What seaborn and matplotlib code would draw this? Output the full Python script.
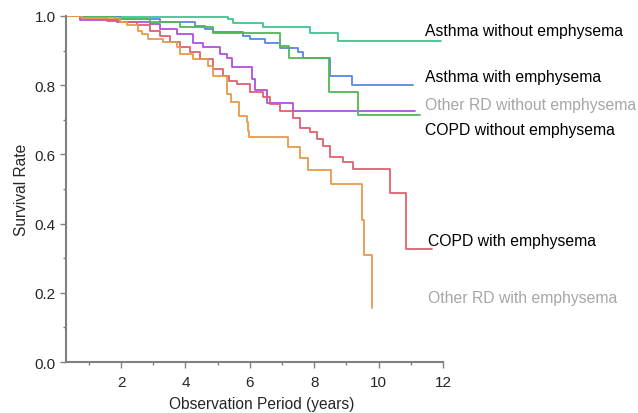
import matplotlib
matplotlib.use("Agg")
import matplotlib.pyplot as plt
from matplotlib.ticker import MultipleLocator
import numpy as np
import pandas as pd
import seaborn as sns

# step curves (time in years, survival rate)
asthma_no_t = [0.3, 2.0, 5.33, 5.48, 6.41, 7.87, 8.74, 11.94]
asthma_no_s = [1.0, 0.997, 0.991, 0.980, 0.967, 0.951, 0.927, 0.927]

asthma_em_t = [0.3, 1.97, 3.22, 4.30, 4.61, 4.86, 5.79, 6.01, 6.47, 6.94, 7.50, 7.65, 8.49, 9.17, 11.07]
asthma_em_s = [1.0, 0.991, 0.982, 0.972, 0.962, 0.953, 0.943, 0.933, 0.921, 0.907, 0.895, 0.880, 0.827, 0.801, 0.801]

other_no_t = [0.3, 0.73, 1.88, 2.90, 3.21, 3.74, 4.24, 4.55, 5.08, 5.29, 5.45, 6.07, 6.16, 6.53, 7.34, 11.13]
other_no_s = [1.0, 0.988, 0.984, 0.977, 0.961, 0.948, 0.922, 0.910, 0.890, 0.879, 0.852, 0.818, 0.787, 0.748, 0.726, 0.726]

copd_no_t = [0.3, 1.81, 2.90, 3.83, 4.86, 6.94, 7.22, 8.46, 9.35, 11.29]
copd_no_s = [1.0, 0.990, 0.983, 0.969, 0.951, 0.914, 0.880, 0.780, 0.714, 0.714]

copd_em_t = [0.3, 0.79, 1.57, 1.97, 2.50, 2.90, 3.21, 3.52, 3.83, 4.14, 4.45, 4.86, 5.17, 5.35,
             5.60, 6.01, 6.41, 6.63, 6.94, 7.34, 7.56, 7.87, 8.09, 8.27, 8.49, 8.89, 9.20,
             10.35, 10.85, 11.65]
copd_em_s = [1.0, 0.994, 0.985, 0.982, 0.974, 0.958, 0.943, 0.924, 0.910, 0.895, 0.876, 0.847, 0.827, 0.813,
             0.803, 0.779, 0.765, 0.746, 0.726, 0.704, 0.676, 0.665, 0.645, 0.625, 0.592, 0.579, 0.558,
             0.488, 0.327, 0.327]

other_em_t = [0.3, 0.79, 1.97, 2.19, 2.53, 2.65, 2.84, 3.30, 3.74, 3.83, 4.24, 4.70, 4.86, 5.29,
              5.42, 5.66, 5.91, 5.94, 5.98, 7.19, 7.56, 7.82, 8.51, 9.49, 9.55, 9.79, 9.79]
other_em_s = [1.0, 0.993, 0.982, 0.974, 0.958, 0.948, 0.934, 0.924, 0.910, 0.890, 0.876, 0.856, 0.827, 0.775,
              0.751, 0.712, 0.693, 0.668, 0.649, 0.621, 0.590, 0.556, 0.514, 0.410, 0.309, 0.155, 0.155]

groups = ["Asthma without emphysema", "Asthma with emphysema", "Other RD without emphysema",
          "COPD without emphysema", "COPD with emphysema", "Other RD with emphysema"]
times = [asthma_no_t, asthma_em_t, other_no_t, copd_no_t, copd_em_t, other_em_t]
surv = [asthma_no_s, asthma_em_s, other_no_s, copd_no_s, copd_em_s, other_em_s]
colors = ["#3fc48f", "#5a86e6", "#b24ee0", "#52b852", "#e0606e", "#e89a4a"]

# label text positions (right of the curves)
label_x = [11.44, 11.44, 11.44, 11.44, 11.53, 11.53]
label_y = [0.958, 0.824, 0.744, 0.673, 0.350, 0.188]
label_col = ["black", "black", "#a6a6a6", "black", "black", "#a6a6a6"]

rows = []
for g, t, s in zip(groups, times, surv):
    for i, (a, b) in enumerate(zip(t, s)):
        rows.append({"group": g, "time": a, "surv": b, "order": i})
df = pd.DataFrame(rows)

sns.set_style("ticks")
plt.rcParams["font.family"] = ["Liberation Sans", "DejaVu Sans"]

fig = plt.figure(figsize=(6.38, 4.14), dpi=100)
ax = fig.add_axes([0.1034, 0.123, 0.5909, 0.836])

sns.lineplot(data=df, x="time", y="surv", hue="group", palette=dict(zip(groups, colors)),
             estimator=None, sort=False, drawstyle="steps-post", linewidth=1.3,
             legend=False, ax=ax)

for g, xx, yy, c in zip(groups, label_x, label_y, label_col):
    ax.text(xx, yy, g, color=c, fontsize=11.3, va="center", ha="left", clip_on=False)

ax.set_xlim(0.29, 12)
ax.set_ylim(0, 1)
ax.set_xticks([2, 4, 6, 8, 10, 12])
ax.set_yticks(np.arange(0, 1.01, 0.2))
ax.set_yticklabels([f"{v:.1f}" for v in np.arange(0, 1.01, 0.2)])
ax.xaxis.set_minor_locator(MultipleLocator(1))
ax.yaxis.set_minor_locator(MultipleLocator(0.1))
ax.tick_params(which="major", direction="out", length=4, width=1, color="#808080", labelsize=11)
ax.tick_params(axis="x", which="major", pad=5)
ax.tick_params(which="minor", direction="out", length=2, width=1, color="#808080")
for sp in ["top", "right"]:
    ax.spines[sp].set_visible(False)
for sp in ["left", "bottom"]:
    ax.spines[sp].set_color("#808080")
    ax.spines[sp].set_linewidth(1.5)

ax.set_xlabel("Observation Period (years)", fontsize=11.2)
ax.xaxis.set_label_coords(0.52, -0.097)
ax.set_ylabel("Survival Rate", fontsize=11.2, labelpad=4)

fig.savefig("out.png", dpi=100)
